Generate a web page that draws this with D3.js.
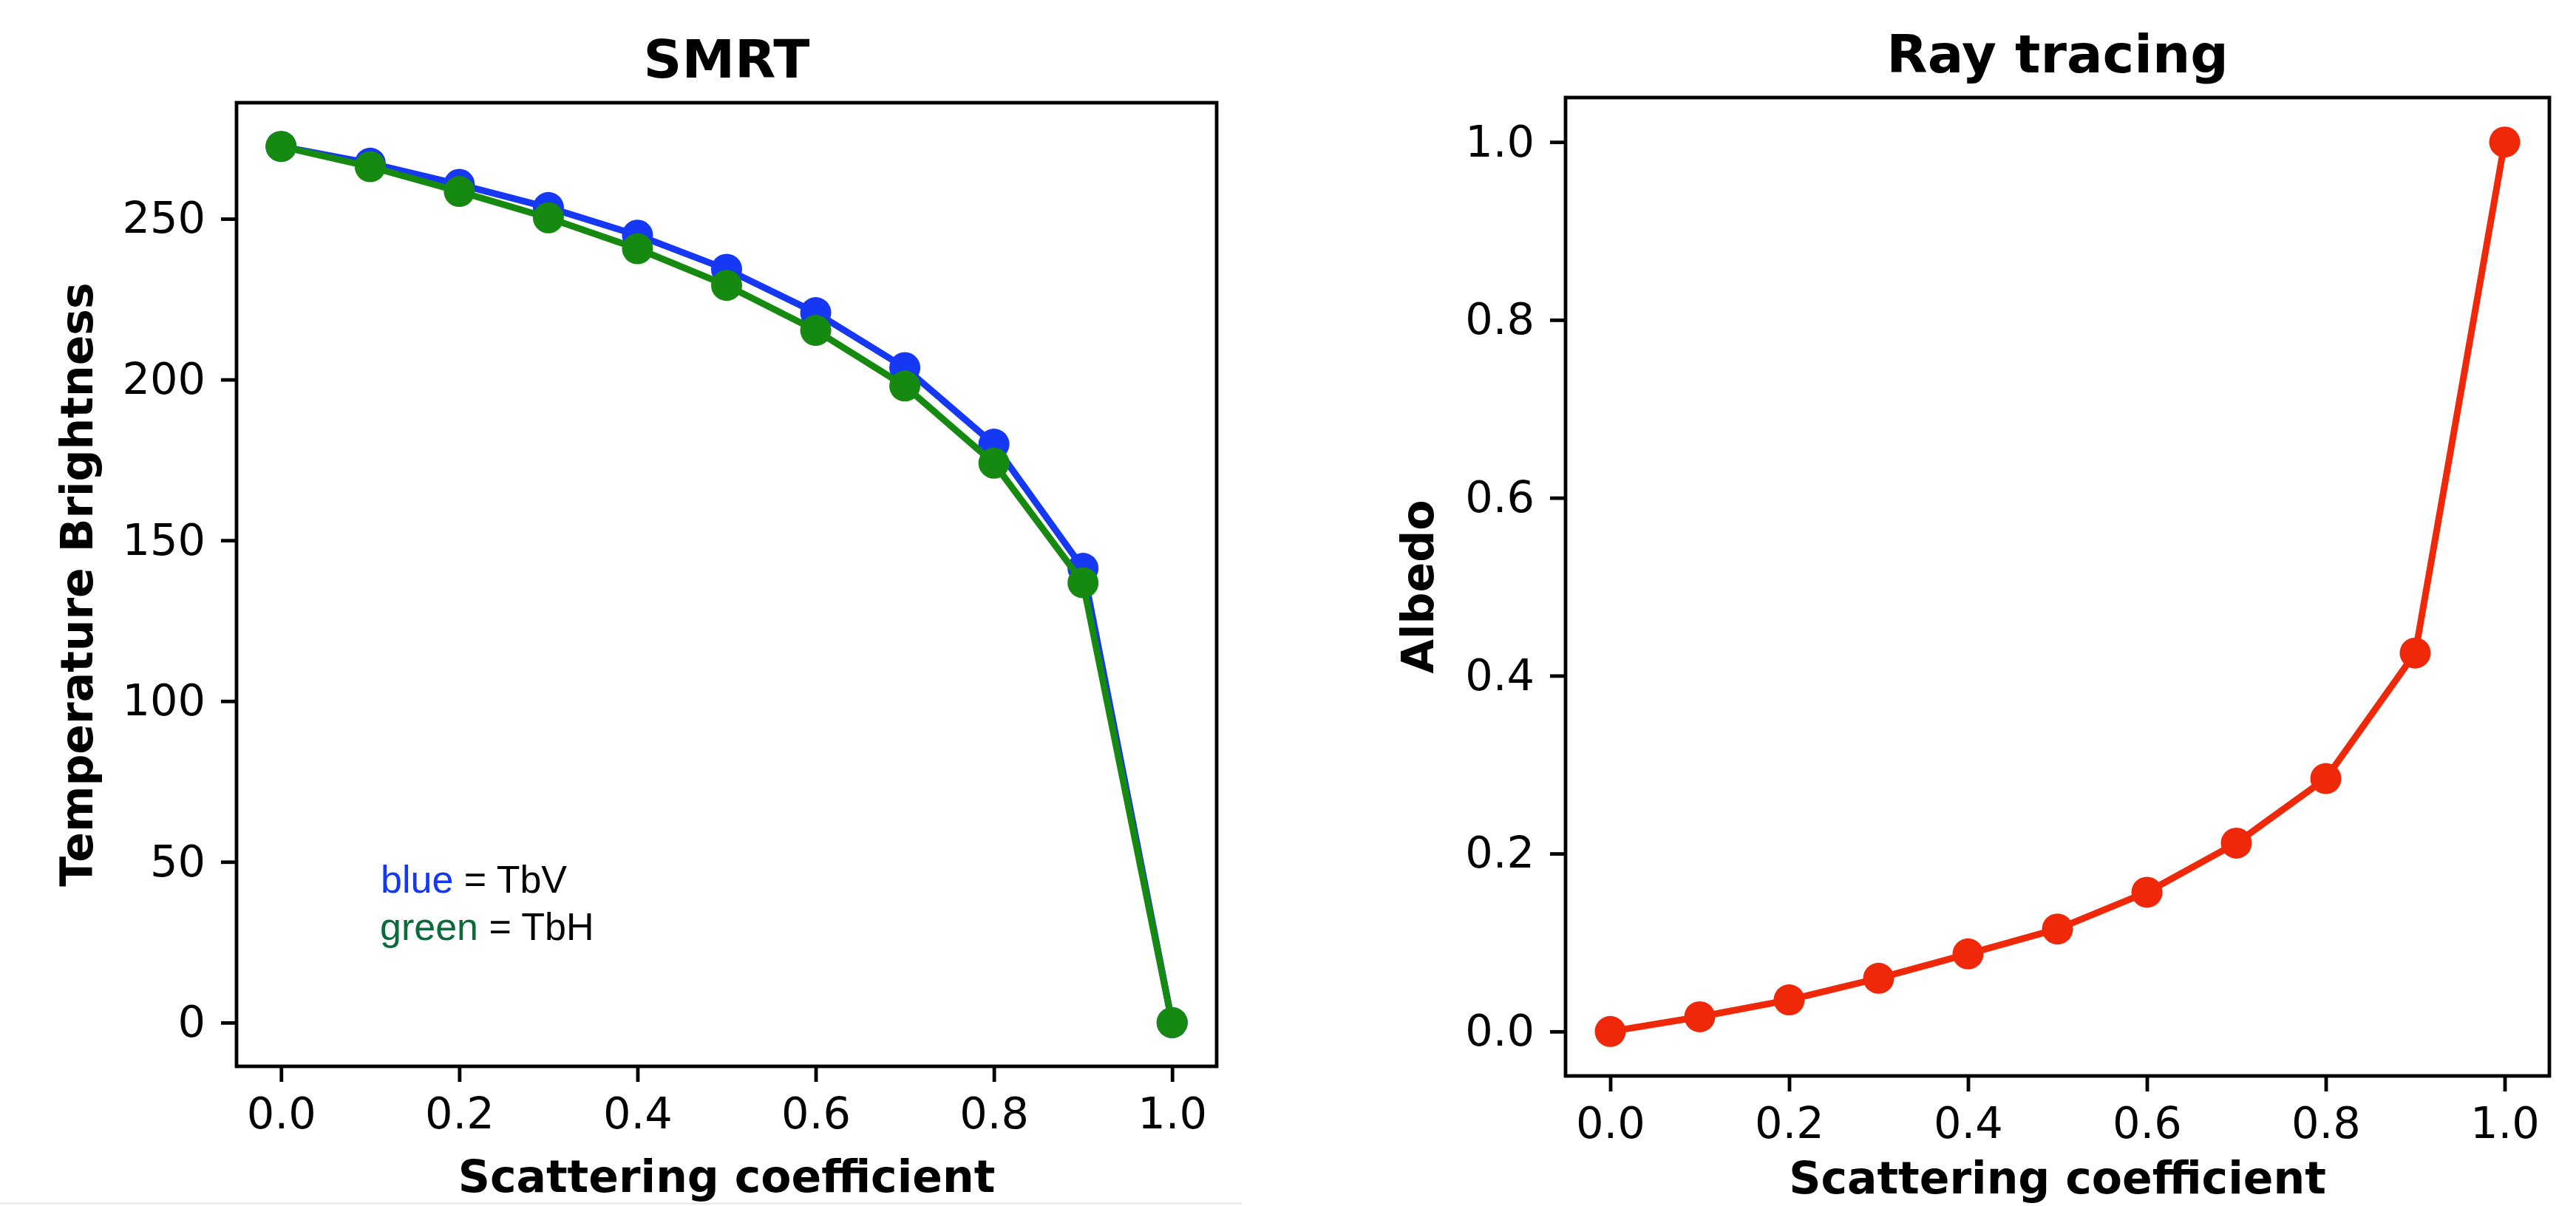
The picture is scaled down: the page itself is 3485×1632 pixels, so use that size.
<!DOCTYPE html>
<html>
<head>
<meta charset="utf-8">
<script src="https://cdn.jsdelivr.net/npm/d3@7"></script>
<style>
  body { margin: 0; background: #ffffff; }
  text { font-family: "DejaVu Sans", sans-serif; }
  .tick text { font-size: 59px; fill: #000; }
  .title { font-size: 72px; font-weight: bold; }
  .axisLabel { font-size: 60px; font-weight: bold; }
  .note text { font-family: "Liberation Sans", Arial, sans-serif; font-size: 52px; }
</style>
</head>
<body>
<svg id="chart" width="3485" height="1632"></svg>
<script>
// data
var scattering = [0.0, 0.1, 0.2, 0.3, 0.4, 0.5, 0.6, 0.7, 0.8, 0.9, 1.0];
var tbV = [272.5, 267.3, 260.7, 253.5, 244.9, 234.3, 220.8, 203.7, 179.9, 141.3, 0];
var tbH = [272.5, 266.2, 258.5, 250.3, 240.7, 229.3, 215.3, 198.0, 174.0, 136.8, 0];
var albedo = [0.0, 0.0165, 0.0355, 0.0598, 0.0872, 0.1152, 0.1565, 0.2118, 0.2843, 0.4255, 1.0];
var xTicks = [0.0, 0.2, 0.4, 0.6, 0.8, 1.0];
var tbTicks = [0, 50, 100, 150, 200, 250];
var albedoTicks = [0.0, 0.2, 0.4, 0.6, 0.8, 1.0];

var blueColour = "#1638f2";
var greenColour = "#168a10";
var redColour = "#f0280a";

var svg = d3.select("#chart");

// faint edge of the pasted left image
svg.append("line")
    .attr("x1", 0).attr("x2", 1680)
    .attr("y1", 1628.5).attr("y2", 1628.5)
    .attr("stroke", "#e4e4e4")
    .attr("stroke-width", 2);

function drawPanel(p) {
    var g = svg.append("g");
    var x = d3.scaleLinear().domain([-0.05, 1.05]).range([p.left, p.right]);
    var y = d3.scaleLinear().domain(p.yDomain).range([p.bottom, p.top]);

    // axes
    var xAxis = g.append("g")
        .attr("transform", "translate(0," + p.bottom + ")")
        .call(d3.axisBottom(x).tickValues(xTicks).tickFormat(d3.format(".1f"))
            .tickSize(21).tickPadding(21).tickSizeOuter(0));
    var yAxis = g.append("g")
        .attr("transform", "translate(" + p.left + ",0)")
        .call(d3.axisLeft(y).tickValues(p.yTicks).tickFormat(p.yFormat)
            .tickSize(21).tickPadding(21).tickSizeOuter(0));
    [xAxis, yAxis].forEach(function(a) {
        a.select(".domain").remove();
        a.selectAll(".tick line").attr("stroke", "#000").attr("stroke-width", 4.8);
        a.selectAll(".tick text").attr("font-family", null).attr("font-size", null);
    });

    // series
    var line = d3.line()
        .x(function(d, i) { return x(scattering[i]); })
        .y(function(d) { return y(d); });
    p.series.forEach(function(s) {
        g.append("path")
            .datum(s.values)
            .attr("d", line)
            .attr("fill", "none")
            .attr("stroke", s.colour)
            .attr("stroke-width", 9)
            .attr("stroke-linejoin", "round");
        g.selectAll(null)
            .data(s.values).enter()
            .append("circle")
            .attr("cx", function(d, i) { return x(scattering[i]); })
            .attr("cy", function(d) { return y(d); })
            .attr("r", 21)
            .attr("fill", s.colour);
    });

    // frame
    g.append("rect")
        .attr("x", p.left).attr("y", p.top)
        .attr("width", p.right - p.left)
        .attr("height", p.bottom - p.top)
        .attr("fill", "none")
        .attr("stroke", "#000")
        .attr("stroke-width", 4.8);

    // title and labels
    var cx = (p.left + p.right) / 2;
    g.append("text")
        .attr("class", "title")
        .attr("x", cx).attr("y", p.top - 34)
        .style("text-anchor", "middle")
        .text(p.title);
    g.append("text")
        .attr("class", "axisLabel")
        .attr("x", cx).attr("y", p.xLabelY)
        .style("text-anchor", "middle")
        .text("Scattering coefficient");
    g.append("text")
        .attr("class", "axisLabel")
        .attr("transform", "translate(" + p.yLabelX + "," + ((p.top + p.bottom) / 2) + ") rotate(-90)")
        .style("text-anchor", "middle")
        .text(p.yLabel);
}

drawPanel({
    left: 320, right: 1646, top: 139, bottom: 1443,
    yDomain: [-13.6, 286.1],
    yTicks: tbTicks, yFormat: d3.format("d"),
    series: [{values: tbV, colour: blueColour}, {values: tbH, colour: greenColour}],
    title: "SMRT", yLabel: "Temperature Brightness",
    xLabelY: 1613, yLabelX: 125
});

drawPanel({
    left: 2118, right: 3449, top: 132, bottom: 1456,
    yDomain: [-0.05, 1.05],
    yTicks: albedoTicks, yFormat: d3.format(".1f"),
    series: [{values: albedo, colour: redColour}],
    title: "Ray tracing", yLabel: "Albedo",
    xLabelY: 1615, yLabelX: 1939
});

// colour note
var note = svg.append("g").attr("class", "note");
var l1 = note.append("text").attr("x", 515).attr("y", 1208);
l1.append("tspan").attr("fill", "#1438f5").text("blue");
l1.append("tspan").attr("fill", "#000").text(" = TbV");
var l2 = note.append("text").attr("x", 514).attr("y", 1272);
l2.append("tspan").attr("fill", "#0b6b3a").text("green");
l2.append("tspan").attr("fill", "#000").text(" = TbH");
</script>
</body>
</html>
